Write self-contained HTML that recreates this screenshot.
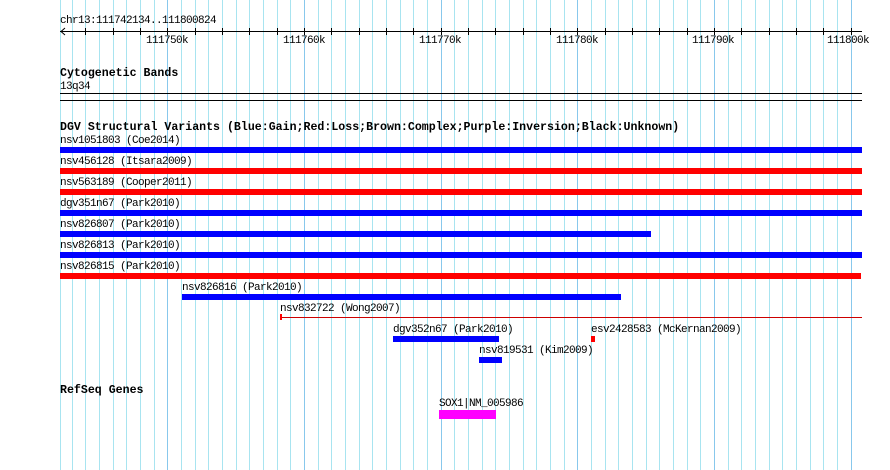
<!DOCTYPE html>
<html><head><meta charset="utf-8"><style>
body{margin:0;background:#fff;}
#c{position:relative;width:890px;height:470px;overflow:hidden;background:#fff;font-family:"Liberation Mono","DejaVu Sans Mono",monospace;}
.t{position:absolute;font-size:11px;line-height:10px;letter-spacing:-0.6px;color:#000;white-space:pre;}
.b{position:absolute;font-size:11.6px;line-height:12px;font-weight:bold;color:#000;white-space:pre;}
.r{position:absolute;}
</style></head><body><div id="c">
<svg class="r" style="left:0;top:0" width="890" height="470">
<g id="g"></g>
</svg>
<script>
var g=document.getElementById('g'),s='';
var sc=802/58690,st=111742134;
function X(bp){return 60+(bp-st)*sc;}
s+='<line x1="60.5" y1="0" x2="60.5" y2="470" stroke="#a8e4f0"/>';
for(var k=111743;k<=111800;k++){var x=Math.round(X(k*1000))+0.5;var maj=k%10==0;
s+='<line x1="'+x+'" y1="0" x2="'+x+'" y2="470" stroke="'+(maj?'#88c8ec':'#a8e4f0')+'"/>';}
s+='<line x1="60" y1="31.5" x2="862" y2="31.5" stroke="#000"/>';
s+='<polyline points="65,28 61,31.5 65,35" fill="none" stroke="#000"/>';
for(var k=111744;k<=111800;k+=2){var x=Math.round(X(k*1000))+0.5;s+='<line x1="'+x+'" y1="28" x2="'+x+'" y2="35" stroke="#000"/>';}
s+='<line x1="60" y1="93.5" x2="862" y2="93.5" stroke="#000"/><line x1="60" y1="100.5" x2="862" y2="100.5" stroke="#000"/>';
g.innerHTML=s;
</script>
<div class="t" style="left:60px;top:16px">chr13:111742134..111800824</div>
<div class="t" style="left:146px;top:36px">111750k</div>
<div class="t" style="left:283px;top:36px">111760k</div>
<div class="t" style="left:419px;top:36px">111770k</div>
<div class="t" style="left:556px;top:36px">111780k</div>
<div class="t" style="left:692px;top:36px">111790k</div>
<div class="t" style="left:827px;top:36px">111800k</div>
<div class="b" style="left:60px;top:68px">Cytogenetic Bands</div>
<div class="t" style="left:60px;top:82px">13q34</div>
<div class="b" style="left:60px;top:122px">DGV Structural Variants (Blue:Gain;Red:Loss;Brown:Complex;Purple:Inversion;Black:Unknown)</div>

<div class="t" style="left:60px;top:136px">nsv1051803 (Coe2014)</div>
<div class="r" style="left:60px;top:147px;width:802px;height:6px;background:#0000ff"></div>
<div class="t" style="left:60px;top:157px">nsv456128 (Itsara2009)</div>
<div class="r" style="left:60px;top:168px;width:802px;height:6px;background:#ff0000"></div>
<div class="t" style="left:60px;top:178px">nsv563189 (Cooper2011)</div>
<div class="r" style="left:60px;top:189px;width:802px;height:6px;background:#ff0000"></div>
<div class="t" style="left:60px;top:199px">dgv351n67 (Park2010)</div>
<div class="r" style="left:60px;top:210px;width:802px;height:6px;background:#0000ff"></div>
<div class="t" style="left:60px;top:220px">nsv826807 (Park2010)</div>
<div class="r" style="left:60px;top:231px;width:591px;height:6px;background:#0000ff"></div>
<div class="t" style="left:60px;top:241px">nsv826813 (Park2010)</div>
<div class="r" style="left:60px;top:252px;width:802px;height:6px;background:#0000ff"></div>
<div class="t" style="left:60px;top:262px">nsv826815 (Park2010)</div>
<div class="r" style="left:60px;top:273px;width:801px;height:6px;background:#ff0000"></div>
<div class="t" style="left:182px;top:283px">nsv826816 (Park2010)</div>
<div class="r" style="left:182px;top:294px;width:439px;height:6px;background:#0000ff"></div>
<div class="t" style="left:280px;top:304px">nsv832722 (Wong2007)</div>
<div class="r" style="left:280px;top:317px;width:582px;height:1px;background:#cc0000"></div>
<div class="r" style="left:280px;top:314px;width:2px;height:6px;background:#ff0000"></div>
<div class="t" style="left:393px;top:325px">dgv352n67 (Park2010)</div>
<div class="r" style="left:393px;top:336px;width:106px;height:6px;background:#0000ff"></div>
<div class="t" style="left:591px;top:325px">esv2428583 (McKernan2009)</div>
<div class="r" style="left:591px;top:336px;width:4px;height:6px;background:#ff0000"></div>
<div class="t" style="left:479px;top:346px">nsv819531 (Kim2009)</div>
<div class="r" style="left:479px;top:357px;width:23px;height:6px;background:#0000ff"></div>
<div class="b" style="left:60px;top:385px">RefSeq Genes</div>
<div class="t" style="left:439px;top:399px">SOX1|NM_005986</div>
<div class="r" style="left:439px;top:410px;width:57px;height:9px;background:#ff00ff"></div>
</div></body></html>
